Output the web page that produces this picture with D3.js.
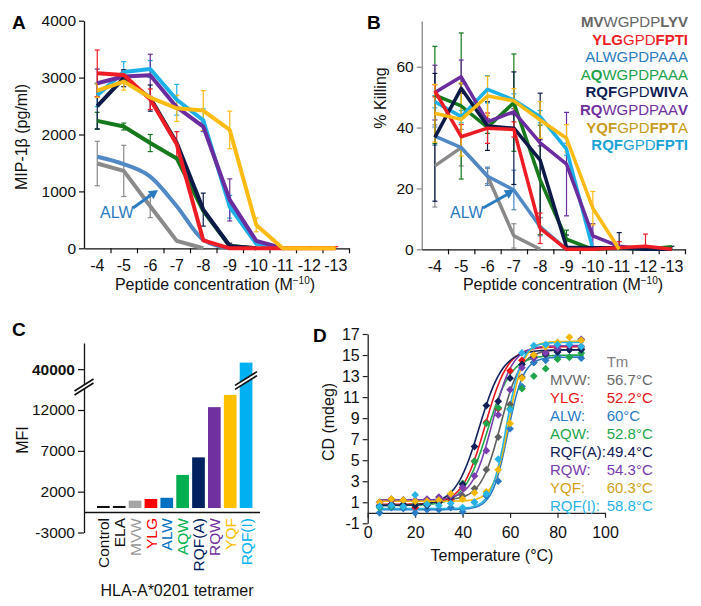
<!DOCTYPE html>
<html><head><meta charset="utf-8">
<script src="https://cdn.jsdelivr.net/npm/d3@7"></script>
<style>
body{margin:0;background:#fff}
svg{font-family:"Liberation Sans",Arial,Helvetica,sans-serif}
</style>
</head><body>
<svg id="chart" width="701" height="606"></svg>
<script>
// ---------------- DATA ----------------
const concLabels = ["-4","-5","-6","-7","-8","-9","-10","-11","-12","-13"];
const peptideNames = ["MVW","YLG","ALW","AQW","RQF(A)","RQW","YQF","RQF(I)"];
const lineColors = ["#8a8a8a","#ee1c25","#5089c6","#16791c","#0d1a48","#6a2c9e","#fdbb13","#1db1ea"];
const textColors = ["#666666","#ee1c25","#2b7bc0","#21a24a","#101d52","#7030a0","#c89b22","#1ba2d6"];

// Panel A: MIP-1beta (pg/ml)
const mipValues = [
  [1490,1360,740,130,0],
  [3075,3045,2620,1830,140,0,0,0,0,0],
  [1610,1480,1260,740,150,0],
  [2240,2140,1850,1580,660,40,0],
  [2500,2990,2640,1850,680,40,0],
  [2900,3020,3040,2480,2140,850,130,0],
  [2770,2930,2650,2460,2420,2080,410,0,0,0],
  [2690,3100,3150,2610,2250,730,80,0]
];
const mipErrors = [
  [390,450,200,0,0],
  [410,60,180,220,0,0,0,0,30,30],
  [0,0,0,0,0,0],
  [150,60,150,0,0,0,0],
  [400,150,230,0,290,50,0],
  [250,100,370,0,80,370,0,0],
  [120,150,0,230,350,330,120,0,0,0],
  [200,180,150,270,200,200,0,0]
];
// Panel B: % killing
const killValues = [
  [27.4,33.4,24.1,4.4,0],
  [52.1,37,39.8,39.4,6.9,0,0,0.5,1,0],
  [37.2,33.4,24,19.5,7.4,0],
  [50.7,47.1,40.1,48.2,22.8,3.3,0,0.5,0,0.8],
  [36.8,52.9,40.5,39.8,29.3,0.7,0.5,0.5,0,0],
  [51.5,56.7,41.9,45.2,35,28,4.4,1,0],
  [44.7,42.7,50.4,48.8,42.5,36.5,13.5,0],
  [48.5,43.6,52.6,49.1,43.6,32.9,0]
];
const killErrors = [
  [13.5,6,2.5,4,0],
  [2,4,5,2.5,5,0,0,2,4,0],
  [3,0,3,6.5,3,0],
  [16,24,2,16,18,3,0,0,0,0],
  [21,1.5,8,18.5,22,4,0,5,0,1],
  [9,5.5,1,1,1,17,4,0,0],
  [9.5,12,6.5,4,6,4.5,5.5,0],
  [2,2,4.5,2,2,2,0]
];
const drawOrder = [0,2,3,7,5,4,1,6];
const legendSequences = [
  [["MV",1],["WGPDP",0],["LYV",1]],
  [["YLG",1],["GPD",0],["FPTI",1]],
  [["ALWGPDPAAA",0]],
  [["A",0],["Q",1],["WGPDPAAA",0]],
  [["RQF",1],["GPD",0],["WIV",1],["A",0]],
  [["RQ",1],["WGPDPAA",0],["V",1]],
  [["YQF",1],["GPD",0],["FPT",1],["A",0]],
  [["RQF",1],["GPD",0],["FPTI",1]]
];

// Panel C: MFI of tetramer staining
const tetramerLabels = ["Control","ELA","MVW","YLG","ALW","AQW","RQF(A)","RQW","YQF","RQF(I)"];
const mfiValues = [250,250,900,1100,1250,4050,6200,12350,13850,40800];
const barColors = ["#111111","#111111","#a6a6a6","#ff0000","#0070c0","#00b050","#002060","#7030a0","#ffc000","#00b0f0"];
const barLabelColors = ["#111111","#111111","#999999","#ff0000","#0070c0","#00b050","#002060","#7030a0","#ffc000","#00b0f0"];
const mfiTicks = [-3000,2000,7000,12000,40000];

// Panel D: CD melting
const temperatures = [5,10,15,20,25,30,35,40,45,50,55,60,65,70,75,80,85,90];
const cdValues = [
  [1.0,1.3,1.2,1.1,1.2,1.2,1.3,1.6,2.3,4.1,7.2,10.3,12.9,14.3,15.0,15.3,15.5,15.6],
  [0.6,0.8,0.7,0.5,0.8,1.0,1.3,2.4,4.9,8.6,9.9,13.5,14.5,15.0,15.2,15.6,15.8,15.8],
  [0.0,0.5,0.4,0.0,0.3,0.3,0.5,0.1,1.0,1.6,3.0,8.0,12.0,14.3,14.5,14.9,14.8,14.7],
  [0.5,0.6,0.6,0.8,0.9,1.1,1.5,2.8,4.9,8.5,10.0,9.9,11.8,13.0,13.7,14.6,14.8,15.2],
  [0.7,0.8,0.8,0.7,0.7,1.0,1.5,2.7,6.3,10.2,10.6,12.8,14.1,14.8,15.1,15.3,15.5,15.5],
  [1.0,1.2,1.2,1.2,1.3,1.5,1.6,2.4,3.5,5.9,9.3,11.7,13.8,14.7,15.2,15.6,15.9,16.5],
  [1.0,1.3,1.2,1.1,1.1,1.2,1.8,1.3,1.9,2.0,4.1,8.5,12.8,15.0,15.8,16.2,16.7,16.4],
  [0.6,0.7,0.6,1.7,0.8,0.7,0.9,0.5,1.0,1.8,5.1,9.8,15.2,15.9,16.0,16.0,16.0,15.8]
];
const cdColors = ["#5f5f5f","#e8141c","#2a7bc6","#1fa64a","#11205a","#7a3db0","#f5b800","#29b4e8"];
const tmLabels = ["56.7°C","52.2°C","60°C","52.8°C","49.4°C","54.3°C","60.3°C","58.8°C"];
const tmTextColors = ["#6b6b6b","#e8141c","#2a7bc6","#1fa64a","#11205a","#7a3db0","#d4a017","#29b4e8"];
// Boltzmann fit parameters
const fitLow  = [1.2,0.8,0.3,0.7,0.7,1.2,1.1,0.4];
const fitHigh = [15.5,15.8,14.8,15.0,15.5,15.9,16.3,16.2];
const fitMid  = [56,49.5,59,50.5,47,52.5,59.5,58.5];
const fitWidth= [4.2,4.8,3.3,5,5,4.3,3.2,3.2];
const cdTicksY = [-1,1,3,5,7,9,11,13,15,17];
const cdTicksX = [0,20,40,60,80,100];

// ---------------- DRAW ----------------
const svg = d3.select("#chart");
const FS = 15;
const plain = d => String(d);

function panelLetter(t, x, y){
  svg.append("text").attr("x",x).attr("y",y).attr("font-size",19).attr("font-weight","bold").text(t);
}

function styleAxis(g, color){
  g.selectAll("path.domain").attr("stroke",color).attr("stroke-width",1.3);
  g.selectAll(".tick line").attr("stroke",color).attr("stroke-width",1.2);
  g.selectAll(".tick text").attr("fill","#111").attr("font-size",FS).attr("font-family",null);
}

function linePanel(cfg){
  const x = d3.scaleBand().domain(concLabels).range([cfg.x0,cfg.x1]);
  const xb = d3.scaleLinear().domain([0,concLabels.length]).range([cfg.x0,cfg.x1]);
  const y = d3.scaleLinear().domain(cfg.yDomain).range([cfg.yBottom,cfg.yTop]);
  const g = svg.append("g");
  // axes
  const ya = g.append("g").attr("transform",`translate(${cfg.x0},0)`)
    .call(d3.axisLeft(y).tickValues(cfg.yTicks).tickFormat(plain).tickSize(5).tickSizeOuter(0).tickPadding(3));
  styleAxis(ya, cfg.yAxisColor);
  ya.selectAll(".tick text").attr("font-size",15.5);
  const xbA = g.append("g").attr("transform",`translate(0,${cfg.yBottom})`)
    .call(d3.axisBottom(xb).tickValues(d3.range(1,concLabels.length+1)).tickFormat("").tickSize(5).tickSizeOuter(0));
  styleAxis(xbA, "#111");
  const xl = g.append("g").attr("transform",`translate(0,${cfg.yBottom})`)
    .call(d3.axisBottom(x).tickSize(0).tickPadding(11));
  xl.select("path.domain").remove();
  styleAxis(xl, "#111");
  xl.selectAll(".tick text").attr("font-size",16);

  // error bars
  const cx = i => x(concLabels[i]) + x.bandwidth()/2;
  cfg.order.forEach(s=>{
    const vals = cfg.values[s], errs = cfg.errors[s];
    vals.forEach((v,i)=>{
      const e = errs[i]; if(!e) return;
      const eg = g.append("g").attr("stroke",lineColors[s]).attr("stroke-width",1.2);
      eg.append("line").attr("x1",cx(i)).attr("x2",cx(i)).attr("y1",y(v+e)).attr("y2",y(Math.max(0,v-e)));
      eg.append("line").attr("x1",cx(i)-2.5).attr("x2",cx(i)+2.5).attr("y1",y(v+e)).attr("y2",y(v+e));
      if(v-e>0) eg.append("line").attr("x1",cx(i)-2.5).attr("x2",cx(i)+2.5).attr("y1",y(v-e)).attr("y2",y(v-e));
    });
  });
  // lines
  cfg.order.forEach(s=>{
    const ln = d3.line().x((d,i)=>cx(i)).y(d=>y(d))
      .curve(cfg.smooth.includes(s) ? d3.curveMonotoneX : d3.curveLinear);
    g.append("path").datum(cfg.values[s]).attr("fill","none")
      .attr("stroke",lineColors[s]).attr("stroke-width",cfg.lw)
      .attr("stroke-linejoin","round").attr("d",ln);
  });
  // axis title
  const t = g.append("text").attr("x",cfg.titleX).attr("y",290).attr("text-anchor","middle")
    .attr("font-size",16).attr("fill","#111");
  t.append("tspan").text("Peptide concentration (M");
  t.append("tspan").text("−10").attr("font-size",10).attr("dy",-6);
  t.append("tspan").text(")").attr("dy",6);
  g.append("text").attr("transform",`translate(${cfg.yTitleX},${cfg.yTitleY}) rotate(-90)`)
    .attr("text-anchor","middle").attr("font-size",16).attr("fill","#111").text(cfg.yTitle);
  // ALW annotation
  const ac = "#2b7bc0";
  g.append("text").attr("x",cfg.alw[0]).attr("y",cfg.alw[1]).attr("font-size",16).attr("fill",ac).text("ALW");
  const [ax1,ay1,ax2,ay2] = cfg.arrow;
  g.append("line").attr("x1",ax1).attr("y1",ay1).attr("x2",ax2-5).attr("y2",ay2+3.5)
    .attr("stroke",ac).attr("stroke-width",3);
  const ang = Math.atan2(ay2-ay1, ax2-ax1);
  const hl = 9, hw = 5;
  const bx = ax2 - hl*Math.cos(ang), by = ay2 - hl*Math.sin(ang);
  g.append("path").attr("fill",ac).attr("d",
    `M${ax2},${ay2}L${bx + hw*Math.sin(ang)},${by - hw*Math.cos(ang)}L${bx - hw*Math.sin(ang)},${by + hw*Math.cos(ang)}Z`);
  return g;
}

// Panel A
panelLetter("A",12,29);
linePanel({x0:84,x1:349,yTop:20.7,yBottom:248.3,yDomain:[0,4000],yTicks:[0,1000,2000,3000,4000],
  values:mipValues,errors:mipErrors,order:drawOrder,lw:4,smooth:[2],yAxisColor:"#111",
  titleX:215,yTitle:"MIP-1β (pg/ml)",yTitleX:27,yTitleY:137,alw:[100,218],arrow:[133,208,158,190]});

// Panel B
panelLetter("B",367,29);
linePanel({x0:421.7,x1:685,yTop:21.1,yBottom:249.3,yDomain:[0,75],yTicks:[0,20,40,60],
  values:killValues,errors:killErrors,order:drawOrder,lw:3.5,smooth:[],yAxisColor:"#888",
  titleX:563,yTitle:"% Killing",yTitleX:386,yTitleY:98,alw:[450,218],arrow:[483,208,514,190]});

// Legend B
legendSequences.forEach((seq,i)=>{
  const t = svg.append("text").attr("x",688).attr("y",27+i*17.6).attr("text-anchor","end")
    .attr("font-size",15).attr("fill",textColors[i]);
  seq.forEach(([s,b])=>t.append("tspan").text(s).attr("font-weight",b?"bold":"normal"));
});

// Panel C
panelLetter("C",12,336);
{
  const g = svg.append("g");
  const y = d3.scaleLinear().domain([-3000,15000,38000,43200]).range([532.5,385.5,385.5,343]);
  const x = d3.scaleBand().domain(tetramerLabels).range([95.4,254]).paddingInner(0.2).paddingOuter(0.1);
  const ya = g.append("g").attr("transform","translate(84,0)")
    .call(d3.axisLeft(y).tickValues(mfiTicks).tickFormat(plain).tickSize(6).tickSizeOuter(0).tickPadding(3));
  styleAxis(ya,"#111");
  ya.selectAll(".tick text").attr("font-size",15.5).attr("font-weight",d=>d===40000?"bold":"normal");
  // zero category line
  g.append("line").attr("x1",84).attr("x2",260).attr("y1",y(-550)).attr("y2",y(-550)).attr("stroke","#111").attr("stroke-width",1.3);
  // bars
  g.selectAll("rect.bar").data(mfiValues).enter().append("rect")
    .attr("x",(d,i)=>x(tetramerLabels[i])).attr("width",x.bandwidth())
    .attr("y",d=>y(d)).attr("height",d=>y(0)-y(d))
    .attr("fill",(d,i)=>barColors[i]);
  // break symbols
  function brk(cx,cy,w){
    const dy = w*0.63/2;
    const gap = 4;
    g.append("path").attr("fill","#fff")
      .attr("d",`M${cx-w/2},${cy+dy}L${cx+w/2},${cy-dy}L${cx+w/2},${cy-dy+gap}L${cx-w/2},${cy+dy+gap}Z`);
    [0,gap].forEach(o=>g.append("line").attr("x1",cx-w/2).attr("y1",cy+dy+o).attr("x2",cx+w/2).attr("y2",cy-dy+o)
      .attr("stroke","#111").attr("stroke-width",1.6));
  }
  brk(84,385,19);
  brk(246,378.5,22);
  // category labels
  tetramerLabels.forEach((c,i)=>{
    g.append("text").attr("transform",`translate(${x(c)+x.bandwidth()/2},518) rotate(-90)`)
      .attr("text-anchor","end").attr("dy","0.36em").attr("font-size",15.5).attr("fill",barLabelColors[i]).text(c);
  });
  g.append("text").attr("x",177).attr("y",596).attr("text-anchor","middle").attr("font-size",16).attr("fill","#111")
    .text("HLA-A*0201 tetramer");
  g.append("text").attr("transform","translate(28,440) rotate(-90)").attr("text-anchor","middle")
    .attr("font-size",16).attr("fill","#111").text("MFI");
}

// Panel D
panelLetter("D",313,342);
{
  const g = svg.append("g");
  const x = d3.scaleLinear().domain([0,100]).range([367.7,605]);
  const y = d3.scaleLinear().domain([-1,17]).range([523.3,334]);
  const ya = g.append("g").attr("transform","translate(367.7,0)")
    .call(d3.axisLeft(y).tickValues(cdTicksY).tickFormat(plain).tickSize(5).tickSizeOuter(0).tickPadding(3));
  styleAxis(ya,"#222");
  ya.selectAll(".tick text").attr("font-size",16);
  const xa = g.append("g").attr("transform",`translate(0,${y(0)})`)
    .call(d3.axisBottom(x).tickValues(cdTicksX).tickFormat(plain).tickSize(5).tickSizeOuter(0).tickPadding(9));
  styleAxis(xa,"#222");
  xa.selectAll(".tick text").attr("font-size",16);
  // fitted curves
  const tGrid = d3.range(5,91.5,0.5);
  peptideNames.forEach((p,s)=>{
    const f = t => fitLow[s] + (fitHigh[s]-fitLow[s])/(1+Math.exp((fitMid[s]-t)/fitWidth[s]));
    g.append("path").datum(tGrid).attr("fill","none").attr("stroke",cdColors[s]).attr("stroke-width",1.6)
      .attr("d",d3.line().x(t=>x(t)).y(t=>y(f(t))));
  });
  // markers
  const diamond = d3.symbol().type(d3.symbolSquare).size(30);
  peptideNames.forEach((p,s)=>{
    g.selectAll(null).data(cdValues[s]).enter().append("path")
      .attr("d",diamond).attr("fill",cdColors[s])
      .attr("transform",(d,i)=>`translate(${x(temperatures[i])},${y(d)}) rotate(45)`);
  });
  // Tm legend
  g.append("text").attr("x",606.7).attr("y",367).attr("font-size",15).attr("fill","#808080").text("Tm");
  peptideNames.forEach((p,s)=>{
    g.append("text").attr("x",550).attr("y",384.5+s*18.1).attr("font-size",15).attr("fill",tmTextColors[s]).text(p+":");
    g.append("text").attr("x",606.7).attr("y",384.5+s*18.1).attr("font-size",15).attr("fill",tmTextColors[s]).text(tmLabels[s]);
  });
  g.append("text").attr("transform","translate(334,422) rotate(-90)").attr("text-anchor","middle")
    .attr("font-size",16).attr("fill","#111").text("CD (mdeg)");
  g.append("text").attr("x",492).attr("y",561).attr("text-anchor","middle").attr("font-size",16).attr("fill","#111")
    .text("Temperature (°C)");
}
</script>
</body></html>
